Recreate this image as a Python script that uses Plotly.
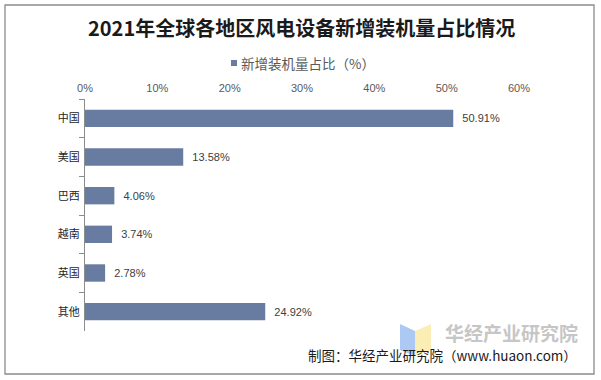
import plotly.graph_objects as go

categories = ["中国", "美国", "巴西", "越南", "英国", "其他"]
shares = [50.91, 13.58, 4.06, 3.74, 2.78, 24.92]
tick_vals = [0, 10, 20, 30, 40, 50, 60]
tick_text = ["0%", "10%", "20%", "30%", "40%", "50%", "60%"]
series_name = "新增装机量占比（%）"
title_text = "2021年全球各地区风电设备新增装机量占比情况"
source_text = "制图：华经产业研究院（www.huaon.com）"
watermark_text = "华经产业研究院"

W, H = 601, 380
L, R, T, B = 85, 82, 99, 49
PW, PH = W - L - R, H - T - B
BAR_COLOR = "#687ba1"

def px(x):
    return (x - L) / PW

def py(y):
    return 1 - (y - T) / PH

font_cjk = "Noto Sans CJK SC, Arial, sans-serif"
font_lat = "Arial, Liberation Sans, Noto Sans CJK SC, sans-serif"

fig = go.Figure()
fig.add_trace(go.Bar(
    y=categories, x=shares, orientation="h",
    name=series_name,
    marker=dict(color=BAR_COLOR, line=dict(width=0)),
    texttemplate="  %{x:.2f}%", textposition="outside",
    textfont=dict(family=font_lat, size=11, color="#404040"),
    cliponaxis=False,
    showlegend=False,
))

border = (f"M {px(5)},{py(5)} L {px(594)},{py(5)} L {px(594)},{py(374)} "
          f"L {px(5)},{py(374)} Z")
shapes = [
    dict(type="path", xref="paper", yref="paper", path=border,
         line=dict(color="#8c8c8c", width=1.3), fillcolor="rgba(0,0,0,0)", layer="above"),
    # legend key
    dict(type="rect", xref="paper", yref="paper",
         x0=px(231), x1=px(237), y0=py(66), y1=py(60),
         fillcolor=BAR_COLOR, line=dict(width=0), layer="above"),
    # logo: open book
    dict(type="path", xref="paper", yref="paper",
         path=f"M {px(400)},{py(324)} L {px(415)},{py(331)} L {px(415)},{py(356)} L {px(400)},{py(350)} Z",
         fillcolor="#abc9f2", line=dict(width=0), layer="above"),
    dict(type="path", xref="paper", yref="paper",
         path=f"M {px(415)},{py(331)} L {px(431)},{py(324)} L {px(431)},{py(350)} L {px(415)},{py(356)} Z",
         fillcolor="#fbeeb4", line=dict(width=0), layer="above"),
]

annotations = [
    dict(text=title_text, xref="paper", yref="paper", x=px(301), y=py(27),
         xanchor="center", yanchor="middle", showarrow=False,
         font=dict(family=font_cjk, size=20, color="#1a1a1a", weight="bold")),
    dict(text=series_name, xref="paper", yref="paper", x=px(239), y=py(63),
         xanchor="left", yanchor="middle", showarrow=False,
         font=dict(family=font_cjk, size=13.5, color="#595959")),
    dict(text=watermark_text, xref="paper", yref="paper", x=px(443), y=py(332),
         xanchor="left", yanchor="middle", showarrow=False,
         font=dict(family=font_cjk, size=19, color="#c6c6c6", weight="bold")),
    dict(text=source_text, xref="paper", yref="paper", x=px(579), y=py(355),
         xanchor="right", yanchor="middle", showarrow=False,
         font=dict(family=font_cjk, size=13.5, color="#1a1a1a")),
]

fig.update_layout(
    width=W, height=H,
    margin=dict(l=L, r=R, t=T, b=B, autoexpand=False),
    paper_bgcolor="white", plot_bgcolor="white",
    bargap=0.55,
    shapes=shapes, annotations=annotations,
    showlegend=False,
    xaxis=dict(side="top", range=[0, 60], tickvals=tick_vals, ticktext=tick_text,
               showgrid=False, zeroline=False, showline=False, ticks="",
               tickfont=dict(family=font_lat, size=11, color="#595959"),
               ticklabelstandoff=4, fixedrange=True, automargin=False),
    yaxis=dict(categoryorder="array", categoryarray=categories, autorange="reversed",
               showline=True, linecolor="#8c8c8c", linewidth=1,
               ticks="outside", tickson="boundaries", ticklen=5, tickcolor="#8c8c8c",
               showgrid=False, zeroline=False, automargin=False,
               tickfont=dict(family=font_cjk, size=11, color="#262626"),
               ticklabelstandoff=2),
)

fig.write_html("out.html", config={"displayModeBar": False},
               post_script="document.body.style.margin='0';")
